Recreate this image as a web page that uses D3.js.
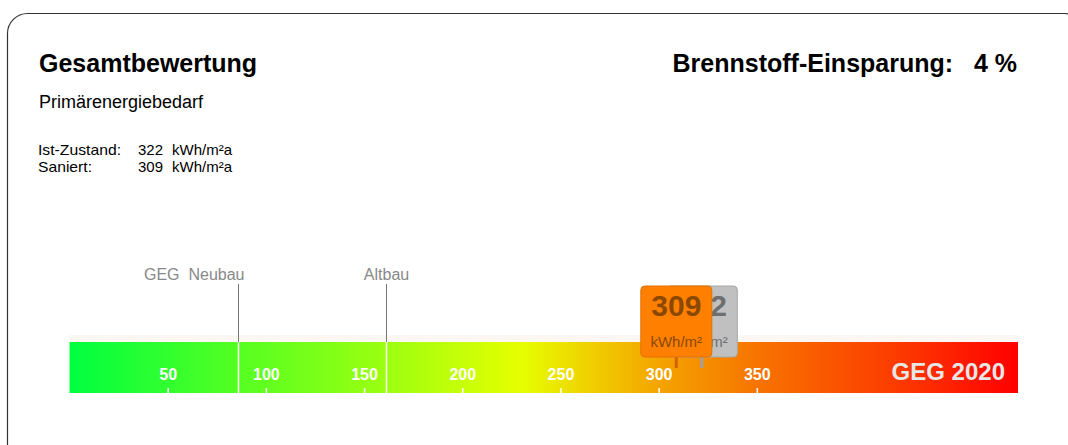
<!DOCTYPE html>
<html>
<head>
<meta charset="utf-8">
<script src="https://cdn.jsdelivr.net/npm/d3@7"></script>
<style>
  body { margin: 0; background: #fff; font-family: "Liberation Sans", Arial, sans-serif; }
</style>
</head>
<body>
<div id="chart"></div>
<script>
// data
var scaleMax = 483;
var tickValues = [50, 100, 150, 200, 250, 300, 350];
var refNames = ["GEG  Neubau", "Altbau"];
var refValues = [86, 161];
var istValue = 322;
var saniertValue = 309;
var einsparung = 4;
var gradStops = [0, 86, 161, 230, 265, 300, 350, 420, 483];
var gradColors = ["#00ff40", "#55ff22", "#9cff10", "#e6ff00", "#f0d000", "#f4a400", "#f77400", "#fc3c00", "#ff0000"];

var svgWidth = 1068, svgHeight = 445;

var svg = d3.select("#chart").append("svg")
  .attr("width", svgWidth)
  .attr("height", svgHeight);

// panel border (right edge runs off the page)
svg.append("rect")
  .attr("x", 7.5).attr("y", 13.5)
  .attr("width", 1077).attr("height", 500)
  .attr("rx", 20)
  .attr("fill", "none")
  .attr("stroke", "#333")
  .attr("stroke-width", 1.2);

// headings
svg.append("text")
  .attr("x", 39).attr("y", 72)
  .style("font-size", "25px").style("font-weight", "bold")
  .attr("fill", "#000")
  .text("Gesamtbewertung");

svg.append("text")
  .attr("x", 1017).attr("y", 72)
  .attr("text-anchor", "end")
  .style("font-size", "25px").style("font-weight", "bold")
  .style("white-space", "pre")
  .attr("fill", "#000")
  .text("Brennstoff-Einsparung:   " + einsparung + " %");

svg.append("text")
  .attr("x", 39).attr("y", 108)
  .style("font-size", "18px")
  .attr("fill", "#000")
  .text("Primärenergiebedarf");

var rows = [["Ist-Zustand:", istValue, 83], ["Saniert:", saniertValue, 54]];
rows.forEach(function(r, i) {
  var y = 155 + i * 17;
  svg.append("text").attr("x", 38).attr("y", y)
    .style("font-size", "15px").attr("fill", "#000")
    .attr("textLength", r[2]).attr("lengthAdjust", "spacingAndGlyphs")
    .text(r[0]);
  svg.append("text").attr("x", 138).attr("y", y)
    .style("font-size", "15px").attr("fill", "#000")
    .attr("textLength", 25).attr("lengthAdjust", "spacingAndGlyphs")
    .text(r[1]);
  svg.append("text").attr("x", 172).attr("y", y)
    .style("font-size", "15px").attr("fill", "#000")
    .attr("textLength", 60).attr("lengthAdjust", "spacingAndGlyphs")
    .text("kWh/m²a");
});

// scale
var x = d3.scaleLinear().domain([0, scaleMax]).range([69.5, 1018]);
var barTop = 342, barBottom = 393;

var defs = svg.append("defs");
var grad = defs.append("linearGradient")
  .attr("id", "barGrad")
  .attr("x1", 0).attr("x2", 1).attr("y1", 0).attr("y2", 0);
gradStops.forEach(function(v, i) {
  grad.append("stop")
    .attr("offset", (v / scaleMax * 100) + "%")
    .attr("stop-color", gradColors[i]);
});

// faint strip above bar
svg.append("rect")
  .attr("x", x(0)).attr("y", 335)
  .attr("width", x(scaleMax) - x(0)).attr("height", barTop - 335)
  .attr("fill", "#fdf7f3");

svg.append("rect")
  .attr("x", x(0)).attr("y", barTop)
  .attr("width", x(scaleMax) - x(0)).attr("height", barBottom - barTop)
  .attr("fill", "url(#barGrad)");

// reference lines
refValues.forEach(function(v, i) {
  var px = Math.round(x(v)) + 0.5;
  svg.append("line")
    .attr("x1", px).attr("x2", px)
    .attr("y1", 284).attr("y2", barTop)
    .attr("stroke", "#777").attr("stroke-width", 1);
  svg.append("line")
    .attr("x1", px).attr("x2", px)
    .attr("y1", barTop).attr("y2", barBottom)
    .attr("stroke", "#fff").attr("stroke-width", 1.5);
  svg.append("text")
    .attr("x", i === 0 ? px + 6 : px)
    .attr("y", 280)
    .attr("text-anchor", i === 0 ? "end" : "middle")
    .style("font-size", "16px")
    .style("white-space", "pre")
    .attr("fill", "#888")
    .text(refNames[i]);
});

// ticks
var axis = d3.axisBottom(x).tickValues(tickValues).tickSize(5).tickPadding(0);
var axisG = svg.append("g")
  .attr("transform", "translate(0," + (barBottom - 5) + ")")
  .call(axis);
axisG.select(".domain").remove();
axisG.selectAll(".tick line").attr("stroke", "#fff").attr("stroke-width", 1.5);
axisG.selectAll(".tick text")
  .attr("y", -8).attr("dy", 0)
  .attr("fill", "#fff")
  .style("font-family", "'Liberation Sans', Arial, sans-serif")
  .style("font-size", "16px").style("font-weight", "bold");

svg.append("text")
  .attr("x", 1005).attr("y", 380)
  .attr("text-anchor", "end")
  .style("font-size", "24px").style("font-weight", "bold")
  .attr("fill", "#e6e6e6")
  .text("GEG 2020");

// value markers (grey = Ist-Zustand behind, orange = Saniert in front)
var markers = [
  { value: istValue, fill: "#c0c0c0", stroke: "#a8a8a8", text: "#6e6e6e", stub: "#a0a0a0" },
  { value: saniertValue, fill: "#ff8000", stroke: "#e27000", text: "#8a4800", stub: "#d46000" }
];
var boxW = 71, boxTop = 286, boxBottom = 357;
markers.forEach(function(m) {
  var cx = x(m.value);
  svg.append("line")
    .attr("x1", cx).attr("x2", cx)
    .attr("y1", boxBottom).attr("y2", 368)
    .attr("stroke", m.stub).attr("stroke-width", 3);
  svg.append("rect")
    .attr("x", cx - boxW / 2).attr("y", boxTop)
    .attr("width", boxW).attr("height", boxBottom - boxTop)
    .attr("rx", 4)
    .attr("fill", m.fill).attr("stroke", m.stroke).attr("stroke-width", 1);
  svg.append("text")
    .attr("x", cx).attr("y", 316)
    .attr("text-anchor", "middle")
    .style("font-size", "30px").style("font-weight", "bold")
    .attr("fill", m.text)
    .text(m.value);
  svg.append("text")
    .attr("x", cx).attr("y", 347)
    .attr("text-anchor", "middle")
    .style("font-size", "15px")
    .attr("fill", m.text)
    .text("kWh/m²");
});
</script>
</body>
</html>
